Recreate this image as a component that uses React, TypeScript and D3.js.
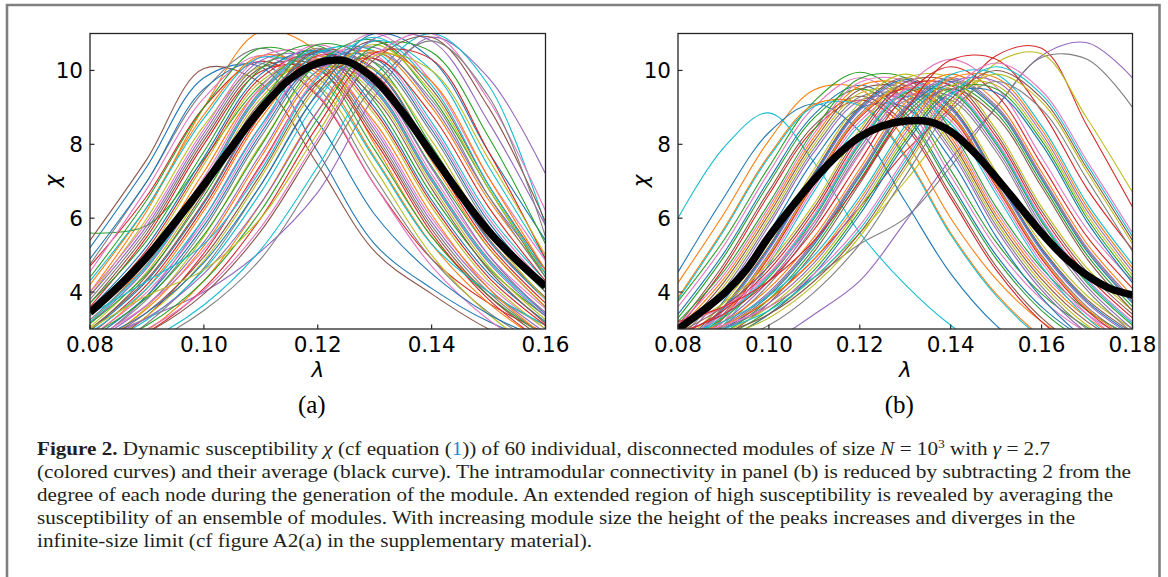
import React from "react";
import * as d3 from "d3";

// ---------- data ----------
const lambdaA = [0.08, 0.09, 0.1, 0.11, 0.12, 0.13, 0.14, 0.15, 0.16];
const lambdaB = [0.08, 0.09, 0.1, 0.11, 0.12, 0.13, 0.14, 0.15, 0.16, 0.17, 0.18];
const lambdaAvgA = [0.08, 0.085, 0.09, 0.095, 0.1, 0.105, 0.11, 0.115, 0.12, 0.125, 0.13, 0.135, 0.14, 0.145, 0.15, 0.155, 0.16];
const lambdaAvgB = [0.08, 0.085, 0.09, 0.095, 0.1, 0.105, 0.11, 0.115, 0.12, 0.125, 0.13, 0.135, 0.14, 0.145, 0.15, 0.155, 0.16, 0.165, 0.17, 0.175, 0.18];

const chiA: number[][] = [
  [5.2, 7.4, 9.8, 10.1, 7.8, 5.3, 4.1, 3.2, 2.6],
  [4.0, 6.2, 9.0, 11.05, 10.5, 8.0, 5.5, 4.0, 3.1],
  [5.6, 5.8, 7.6, 9.6, 10.5, 9.7, 7.4, 5.2, 3.6],
  [4.7, 6.6, 9.0, 10.25, 9.3, 6.9, 4.9, 3.7, 2.9],
  [2.6, 3.3, 4.0, 5.1, 6.7, 9.3, 10.9, 9.8, 7.2],
  [5.4, 7.6, 10.05, 9.65, 7.45, 5.1, 3.95, 3.0, 2.4],
  [4.55, 6.8, 9.25, 10.4, 9.35, 6.9, 4.7, 3.25, 2.3],
  [4.75, 7.0, 9.45, 10.6, 9.55, 7.1, 4.9, 3.45, 2.5],
  [3.9, 6.0, 8.5, 10.1, 9.6, 7.35, 5.0, 3.4, 2.3],
  [2.2, 2.7, 3.65, 5.15, 7.4, 9.85, 11.0, 9.6, 5.8],
  [4.9, 7.0, 9.5, 10.2, 8.6, 6.1, 4.5, 3.4, 2.7],
  [4.2, 6.3, 8.8, 10.4, 9.9, 7.65, 5.3, 3.7, 2.6],
  [4.4, 6.5, 9.0, 10.6, 10.1, 7.85, 5.5, 3.9, 2.8],
  [3.6, 5.5, 8.0, 9.97, 10.02, 8.1, 5.6, 3.8, 2.6],
  [3.9, 5.8, 8.3, 10.27, 10.32, 8.4, 5.9, 4.1, 2.9],
  [3.7, 5.6, 8.1, 10.07, 10.12, 8.2, 5.7, 3.9, 2.7],
  [4.0, 5.9, 8.4, 10.37, 10.42, 8.5, 6.0, 4.2, 3.0],
  [3.8, 5.7, 8.2, 10.17, 10.22, 8.3, 5.8, 4.0, 2.8],
  [3.35, 5.05, 7.45, 9.7, 10.32, 8.8, 6.3, 4.3, 3.0],
  [4.3, 6.3, 8.7, 10.35, 9.8, 7.6, 5.3, 4.0, 3.1],
  [3.55, 5.25, 7.65, 9.9, 10.52, 9.0, 6.5, 4.5, 3.2],
  [3.15, 4.85, 7.25, 9.5, 10.12, 8.6, 6.1, 4.1, 2.8],
  [3.7, 5.4, 7.8, 10.05, 10.67, 9.15, 6.65, 4.65, 3.35],
  [3.45, 5.15, 7.55, 9.8, 10.42, 8.9, 6.4, 4.4, 3.1],
  [3.15, 4.65, 6.9, 9.35, 10.5, 9.45, 7.0, 4.8, 3.35],
  [2.95, 4.45, 6.7, 9.15, 10.3, 9.25, 6.8, 4.6, 3.15],
  [3.35, 4.85, 7.1, 9.55, 10.7, 9.65, 7.2, 5.0, 3.55],
  [3.25, 4.75, 7.0, 9.45, 10.6, 9.55, 7.1, 4.9, 3.45],
  [3.05, 4.55, 6.8, 9.25, 10.4, 9.35, 6.9, 4.7, 3.25],
  [3.2, 4.7, 6.95, 9.4, 10.55, 9.5, 7.05, 4.85, 3.4],
  [2.95, 4.3, 6.4, 8.9, 10.5, 10.0, 7.75, 5.4, 3.8],
  [2.75, 4.1, 6.2, 8.7, 10.3, 9.8, 7.55, 5.2, 3.6],
  [3.15, 4.5, 6.6, 9.1, 10.7, 10.2, 7.95, 5.6, 4.0],
  [2.85, 4.2, 6.3, 8.8, 10.4, 9.9, 7.65, 5.3, 3.7],
  [2.55, 3.9, 6.0, 8.5, 10.1, 9.6, 7.35, 5.0, 3.4],
  [3.0, 4.35, 6.45, 8.95, 10.55, 10.05, 7.8, 5.45, 3.85],
  [2.8, 4.0, 5.9, 8.4, 10.37, 10.42, 8.5, 6.0, 4.2],
  [2.6, 3.8, 5.7, 8.2, 10.17, 10.22, 8.3, 5.8, 4.0],
  [2.4, 3.6, 5.5, 8.0, 9.97, 10.02, 8.1, 5.6, 3.8],
  [2.9, 4.1, 6.0, 8.5, 10.47, 10.52, 8.6, 6.1, 4.3],
  [2.7, 3.9, 5.8, 8.3, 10.27, 10.32, 8.4, 5.9, 4.1],
  [2.5, 3.55, 5.25, 7.65, 9.9, 10.52, 9.0, 6.5, 4.5],
  [2.8, 3.85, 5.55, 7.95, 10.2, 10.82, 9.3, 6.8, 4.4],
  [2.3, 3.35, 5.05, 7.45, 9.7, 10.32, 8.8, 6.3, 4.3],
  [2.6, 3.65, 5.35, 7.75, 10.0, 10.62, 9.1, 6.6, 4.6],
  [2.5, 3.45, 4.95, 7.2, 9.65, 10.8, 9.5, 6.9, 4.6],
  [2.7, 3.65, 5.15, 7.4, 9.85, 11.0, 9.7, 7.1, 4.85],
  [2.2, 3.15, 4.65, 6.9, 9.35, 10.5, 9.2, 6.6, 4.4],
  [2.4, 3.35, 4.85, 7.1, 9.55, 10.7, 9.4, 6.8, 4.5],
  [2.45, 3.25, 4.6, 6.7, 9.2, 10.8, 10.0, 7.4, 4.9],
  [2.65, 3.45, 4.8, 6.9, 9.4, 11.0, 10.3, 7.8, 5.4],
  [2.15, 2.95, 4.3, 6.4, 8.9, 10.5, 9.7, 7.1, 4.6],
  [2.4, 3.1, 4.3, 6.2, 8.7, 10.67, 10.5, 8.2, 5.3],
  [2.2, 2.9, 4.1, 6.0, 8.5, 10.47, 10.3, 7.8, 4.9],
  [2.6, 3.3, 4.5, 6.4, 8.9, 10.87, 10.8, 8.6, 5.8],
  [2.3, 2.9, 3.95, 5.65, 8.05, 10.3, 10.9, 9.0, 5.9],
  [2.4, 3.0, 4.05, 5.75, 8.15, 10.4, 11.0, 9.2, 6.2],
  [2.1, 2.6, 3.5, 4.9, 7.2, 9.6, 10.8, 9.3, 5.5],
  [3.0, 3.9, 4.6, 6.0, 8.3, 10.4, 10.0, 7.6, 5.0],
  [3.4, 4.3, 5.3, 7.3, 9.8, 10.9, 9.6, 6.9, 4.5],
];

const chiB: number[][] = [
  [3.4, 5.04, 7.04, 8.82, 9.6, 8.85, 6.95, 5.0, 3.6, 2.7, 2.1],
  [4.25, 6.1, 8.1, 9.48, 9.5, 8.1, 6.0, 4.35, 3.2, 2.5, 2.0],
  [3.75, 5.39, 7.39, 9.17, 9.95, 9.2, 7.3, 5.35, 3.95, 3.05, 2.45],
  [2.4, 3.0, 3.8, 4.9, 6.3, 7.8, 9.0, 10.4, 10.6, 8.5, 6.3],
  [1.5, 2.0, 2.6, 3.4, 4.3, 5.9, 7.6, 9.0, 10.4, 10.75, 9.8],
  [3.1, 4.74, 6.74, 8.52, 9.3, 8.55, 6.65, 4.7, 3.3, 2.4, 1.8],
  [3.6, 5.24, 7.24, 9.02, 9.8, 9.05, 7.15, 5.2, 3.8, 2.9, 2.3],
  [2.5, 3.0, 3.6, 4.4, 5.3, 6.0, 7.4, 9.0, 10.35, 10.3, 9.0],
  [2.2, 2.7, 3.4, 4.4, 5.6, 7.0, 8.6, 10.2, 10.45, 8.7, 6.7],
  [6.0, 7.9, 8.85, 7.5, 5.6, 4.2, 3.1, 2.3, 1.8, 1.5, 1.3],
  [4.54, 6.54, 8.32, 9.1, 8.35, 6.45, 4.5, 3.1, 2.2, 1.6, 1.25],
  [3.85, 5.7, 7.7, 9.08, 9.1, 7.7, 5.6, 3.95, 2.8, 2.1, 1.6],
  [3.3, 4.94, 6.94, 8.72, 9.5, 8.75, 6.85, 4.9, 3.5, 2.6, 2.0],
  [3.0, 4.64, 6.64, 8.42, 9.2, 8.45, 6.55, 4.6, 3.2, 2.3, 1.7],
  [2.6, 3.95, 5.8, 7.8, 9.18, 9.2, 7.8, 5.7, 4.05, 2.9, 2.2],
  [2.9, 4.25, 6.1, 8.1, 9.48, 9.5, 8.1, 6.0, 4.35, 3.2, 2.5],
  [3.1, 4.45, 6.3, 8.3, 9.68, 9.7, 8.3, 6.2, 4.55, 3.4, 2.7],
  [2.7, 4.05, 5.9, 7.9, 9.28, 9.3, 7.9, 5.8, 4.15, 3.0, 2.3],
  [2.8, 4.15, 6.0, 8.0, 9.38, 9.4, 8.0, 5.9, 4.25, 3.1, 2.4],
  [3.8, 5.65, 7.65, 9.03, 9.05, 7.65, 5.55, 3.9, 2.75, 2.05, 1.55],
  [2.4, 3.75, 5.6, 7.6, 8.98, 9.0, 7.6, 5.5, 3.85, 2.7, 2.0],
  [3.0, 4.35, 6.2, 8.2, 9.58, 9.6, 8.2, 6.1, 4.45, 3.3, 2.6],
  [3.2, 4.55, 6.4, 8.4, 9.78, 9.8, 8.4, 6.3, 4.65, 3.5, 2.8],
  [2.15, 3.3, 4.94, 6.94, 8.72, 9.5, 8.75, 6.85, 4.9, 3.5, 2.6],
  [2.35, 3.5, 5.14, 7.14, 8.92, 9.7, 8.95, 7.05, 5.1, 3.7, 2.8],
  [2.45, 3.6, 5.24, 7.24, 9.02, 9.8, 9.05, 7.15, 5.2, 3.8, 2.9],
  [2.05, 3.2, 4.84, 6.84, 8.62, 9.4, 8.65, 6.75, 4.8, 3.4, 2.5],
  [2.25, 3.4, 5.04, 7.04, 8.82, 9.6, 8.85, 6.95, 5.0, 3.6, 2.7],
  [2.55, 3.7, 5.34, 7.34, 9.12, 9.9, 9.15, 7.25, 5.3, 3.9, 3.0],
  [1.95, 3.1, 4.74, 6.74, 8.52, 9.3, 8.55, 6.65, 4.7, 3.3, 2.4],
  [2.4, 3.55, 5.19, 7.19, 8.97, 9.75, 9.0, 7.1, 5.15, 3.75, 2.85],
  [2.2, 3.35, 4.99, 6.99, 8.77, 9.55, 8.8, 6.9, 4.95, 3.55, 2.65],
  [2.6, 3.3, 4.4, 6.0, 8.0, 9.38, 9.4, 8.0, 5.9, 4.25, 3.1],
  [2.8, 3.5, 4.6, 6.2, 8.2, 9.58, 9.6, 8.2, 6.1, 4.45, 3.3],
  [2.5, 3.2, 4.3, 5.9, 7.9, 9.28, 9.3, 7.9, 5.8, 4.15, 3.0],
  [2.9, 3.6, 4.7, 6.3, 8.3, 9.68, 9.7, 8.3, 6.2, 4.55, 3.4],
  [2.7, 3.4, 4.5, 6.1, 8.1, 9.48, 9.5, 8.1, 6.0, 4.35, 3.2],
  [2.4, 3.1, 4.2, 5.8, 7.8, 9.18, 9.2, 7.8, 5.7, 4.05, 2.9],
  [3.0, 3.7, 4.8, 6.4, 8.4, 9.78, 9.8, 8.4, 6.3, 4.65, 3.5],
  [2.65, 3.35, 4.45, 6.05, 8.05, 9.43, 9.45, 8.05, 5.95, 4.3, 3.15],
  [2.5, 3.0, 3.9, 5.3, 7.14, 8.92, 9.7, 8.95, 7.05, 5.1, 3.7],
  [2.7, 3.2, 4.1, 5.5, 7.34, 9.12, 9.9, 9.15, 7.25, 5.3, 3.9],
  [2.4, 2.9, 3.8, 5.2, 7.04, 8.82, 9.6, 8.85, 6.95, 5.0, 3.6],
  [2.9, 3.4, 4.3, 5.7, 7.54, 9.32, 10.1, 9.35, 7.45, 5.5, 4.1],
  [2.6, 3.1, 4.0, 5.4, 7.24, 9.02, 9.8, 9.05, 7.15, 5.2, 3.8],
  [2.3, 2.8, 3.7, 5.1, 6.94, 8.72, 9.5, 8.75, 6.85, 4.9, 3.5],
  [3.1, 3.6, 4.5, 5.9, 7.74, 9.52, 10.3, 9.55, 7.65, 5.7, 4.3],
  [2.55, 3.05, 3.95, 5.35, 7.19, 8.97, 9.75, 9.0, 7.1, 5.15, 3.75],
  [2.5, 2.9, 3.6, 4.7, 6.3, 8.2, 9.58, 9.6, 8.2, 6.1, 4.45],
  [2.8, 3.2, 3.9, 5.0, 6.6, 8.5, 9.88, 9.9, 8.5, 6.4, 4.75],
  [2.3, 2.7, 3.4, 4.5, 6.1, 8.0, 9.38, 9.4, 8.0, 5.9, 4.25],
  [2.7, 3.1, 3.8, 4.9, 6.5, 8.4, 9.78, 9.8, 8.4, 6.3, 4.65],
  [2.4, 2.8, 3.5, 4.6, 6.2, 8.1, 9.48, 9.5, 8.1, 6.0, 4.35],
  [3.2, 3.6, 4.3, 5.4, 7.0, 8.9, 10.28, 10.3, 8.9, 6.8, 5.15],
  [2.6, 3.0, 3.7, 4.8, 6.4, 8.3, 9.68, 9.7, 8.3, 6.2, 4.55],
  [2.6, 2.9, 3.4, 4.3, 5.6, 7.44, 9.22, 10.0, 9.25, 7.35, 5.4],
  [2.8, 3.1, 3.6, 4.5, 5.8, 7.64, 9.42, 10.2, 9.45, 7.55, 5.6],
  [2.3, 2.6, 3.1, 4.0, 5.3, 7.14, 8.92, 9.7, 8.95, 7.05, 5.1],
  [2.5, 2.8, 3.3, 4.2, 5.5, 7.34, 9.12, 9.9, 9.15, 7.25, 5.3],
  [2.7, 3.0, 3.5, 4.4, 5.7, 7.54, 9.32, 10.1, 9.35, 7.45, 5.5],
];

const avgA = [3.45, 4.15, 4.95, 5.9, 6.9, 7.95, 8.95, 9.75, 10.2, 10.25, 9.75, 8.85, 7.75, 6.65, 5.65, 4.85, 4.15];
const avgB = [3.0, 3.45, 3.95, 4.6, 5.5, 6.3, 7.05, 7.7, 8.2, 8.5, 8.63, 8.62, 8.35, 7.8, 7.1, 6.35, 5.6, 4.95, 4.45, 4.1, 3.92];

const xTicksA = [0.08, 0.1, 0.12, 0.14, 0.16];
const xTicksB = [0.08, 0.1, 0.12, 0.14, 0.16, 0.18];
const yTicks = [4, 6, 8, 10];
const palette = ["#1f77b4", "#ff7f0e", "#2ca02c", "#d62728", "#9467bd", "#8c564b", "#e377c2", "#7f7f7f", "#bcbd22", "#17becf"];

const captionLines = [
  "(colored curves) and their average (black curve). The intramodular connectivity in panel (b) is reduced by subtracting 2 from the",
  "degree of each node during the generation of the module. An extended region of high susceptibility is revealed by averaging the",
  "susceptibility of an ensemble of modules. With increasing module size the height of the peaks increases and diverges in the",
  "infinite-size limit (cf figure A2(a) in the supplementary material).",
];
const captionWidths = [1094, 1076, 1038, 555];

// ---------- layout ----------
const Y_TOP = 33.5;
const Y_BOT = 329;
const yScale = d3.scaleLinear().domain([3, 11]).range([Y_BOT, Y_TOP]);

type PanelProps = {
  id: string;
  x0: number;
  x1: number;
  domain: [number, number];
  lambdas: number[];
  curves: number[][];
  avgL: number[];
  avg: number[];
  ticks: number[];
  sub: string;
};

function Panel({ id, x0, x1, domain, lambdas, curves, avgL, avg, ticks, sub }: PanelProps) {
  const x = d3.scaleLinear().domain(domain).range([x0, x1]);
  const line = d3
    .line<number>()
    .x((_, i) => x(lambdas[i]))
    .y((d) => yScale(d))
    .curve(d3.curveCatmullRom.alpha(0.5));
  const avgLine = d3
    .line<number>()
    .x((_, i) => x(avgL[i]))
    .y((d) => yScale(d))
    .curve(d3.curveCatmullRom.alpha(0.5));
  const cx = (x0 + x1) / 2;
  const font = "'DejaVu Sans', sans-serif";
  return (
    <g>
      <defs>
        <clipPath id={id}>
          <rect x={x0} y={Y_TOP} width={x1 - x0} height={Y_BOT - Y_TOP} />
        </clipPath>
      </defs>
      <g clipPath={`url(#${id})`}>
        {curves.map((c, i) => (
          <path key={i} d={line(c) || ""} fill="none" stroke={palette[i % 10]} strokeWidth={1.1} />
        ))}
        <path d={avgLine(avg) || ""} fill="none" stroke="#000" strokeWidth={7.5} strokeLinejoin="round" />
      </g>
      <rect x={x0} y={Y_TOP} width={x1 - x0} height={Y_BOT - Y_TOP} fill="none" stroke="#262626" strokeWidth={1.3} />
      {ticks.map((t) => (
        <g key={t}>
          <line x1={x(t)} x2={x(t)} y1={Y_BOT} y2={Y_BOT - 4.5} stroke="#262626" strokeWidth={1.2} />
          <text x={x(t)} y={352} textAnchor="middle" fontFamily={font} fontSize={21.5} fill="#000">
            {d3.format(".2f")(t)}
          </text>
        </g>
      ))}
      {yTicks.map((t) => (
        <g key={t}>
          <line x1={x0} x2={x0 + 4.5} y1={yScale(t)} y2={yScale(t)} stroke="#262626" strokeWidth={1.2} />
          <text x={x0 - 7} y={yScale(t) + 7.8} textAnchor="end" fontFamily={font} fontSize={21.5} fill="#000">
            {t}
          </text>
        </g>
      ))}
      <text x={cx} y={377} textAnchor="middle" fontFamily={font} fontStyle="italic" fontSize={21.5}>
        λ
      </text>
      <text
        transform={`translate(${x0 - 38},181) rotate(-90)`}
        textAnchor="middle"
        dominantBaseline="central"
        fontFamily={font}
        fontStyle="italic"
        fontSize={21.5}
      >
        χ
      </text>
      <text x={cx - 6} y={413} textAnchor="middle" fontFamily="'Liberation Serif', serif" fontSize={25}>
        {sub}
      </text>
    </g>
  );
}

export default function App() {
  const capFont = "'Liberation Serif', serif";
  return (
    <svg width={1168} height={577} style={{ position: "absolute", left: 0, top: 0, background: "#fff" }}>
      <rect x={0} y={0} width={1168} height={577} fill="#fff" />
      <path d="M7,600 V5 H1159.5 V600" fill="none" stroke="#808080" strokeWidth={2.6} />
      <Panel
        id="clipA"
        x0={90}
        x1={545.5}
        domain={[0.08, 0.16]}
        lambdas={lambdaA}
        curves={chiA}
        avgL={lambdaAvgA}
        avg={avgA}
        ticks={xTicksA}
        sub="(a)"
      />
      <Panel
        id="clipB"
        x0={678}
        x1={1132.5}
        domain={[0.08, 0.18]}
        lambdas={lambdaB}
        curves={chiB}
        avgL={lambdaAvgB}
        avg={avgB}
        ticks={xTicksB}
        sub="(b)"
      />
      <text x={37} y={455} fontFamily={capFont} fontSize={19.5} fill="#231f20" textLength={1013} lengthAdjust="spacingAndGlyphs">
        <tspan fontWeight="bold">Figure 2.</tspan>
        <tspan>{"  Dynamic susceptibility "}</tspan>
        <tspan fontStyle="italic">χ</tspan>
        <tspan>{" (cf equation ("}</tspan>
        <tspan fill="#1b8ad3">1</tspan>
        <tspan>{")) of 60 individual, disconnected modules of size "}</tspan>
        <tspan fontStyle="italic">N</tspan>
        <tspan>{" = 10"}</tspan>
        <tspan fontSize={12.5} dy={-7.5}>3</tspan>
        <tspan dy={7.5}>{" with "}</tspan>
        <tspan fontStyle="italic">γ</tspan>
        <tspan>{" = 2.7"}</tspan>
      </text>
      {captionLines.map((s, i) => (
        <text
          key={i}
          x={37}
          y={478 + i * 23}
          fontFamily={capFont}
          fontSize={19.5}
          fill="#231f20"
          textLength={captionWidths[i]}
          lengthAdjust="spacingAndGlyphs"
        >
          {s}
        </text>
      ))}
    </svg>
  );
}
